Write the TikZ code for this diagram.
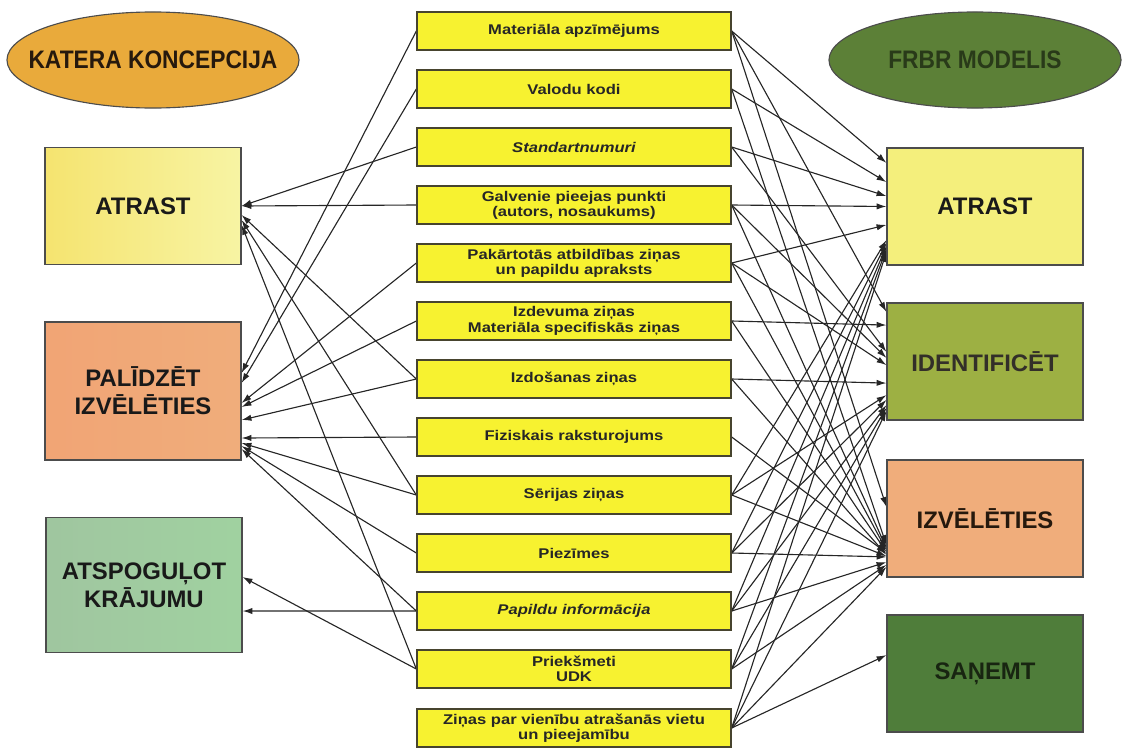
\documentclass[tikz,border=0pt]{standalone}
\usepackage{fontspec}
\setmainfont{Liberation Sans}
\newfontfamily\widefont[FakeStretch=1.18]{Liberation Sans}
\newfontfamily\narrowfont[FakeStretch=0.9]{Liberation Sans}
\usetikzlibrary{shapes.geometric,arrows.meta}
\pgfdeclarelayer{edgelayer}
\pgfdeclarelayer{nodelayer}
\pgfsetlayers{edgelayer,nodelayer,main}
\definecolor{fieldfill}{HTML}{F7F230}
\definecolor{findfill}{HTML}{F4EF7C}
\definecolor{identfill}{HTML}{9DB043}
\definecolor{selectfill}{HTML}{F0AD7B}
\definecolor{obtainfill}{HTML}{4F7D3A}
\definecolor{katera}{HTML}{E9AA3B}
\definecolor{frbr}{HTML}{5C8037}
\tikzstyle{edge}=[draw=black!85, line width=0.8pt, -{Latex[length=7pt,width=4.5pt]}]
\tikzstyle{field}=[rectangle, draw=black!65!olive, line width=0.9pt, fill=fieldfill, minimum width=7.85cm, minimum height=0.95cm, inner sep=0pt, align=center, text=black!85, font=\widefont\bfseries\fontsize{10}{10.8}\selectfont]
\tikzstyle{task}=[rectangle, draw=black!70, line width=0.8pt, minimum width=4.9cm, minimum height=2.925cm, inner sep=0pt, align=center, text=black!90, font=\bfseries\fontsize{17}{20}\selectfont]
\tikzstyle{title}=[ellipse, draw=black!70, line width=0.8pt, minimum width=7.3cm, minimum height=2.4cm, inner sep=0pt, font=\narrowfont\bfseries\fontsize{18}{20}\selectfont]

\begin{document}
\begin{tikzpicture}[x=0.025cm, y=-0.025cm]
				\useasboundingbox (0,0) rectangle (1122,750);
				\begin{pgfonlayer}{nodelayer}
					\node [style=title, fill=katera, text=black!80!brown] (21) at (153, 60) {\makebox[0pt]{KATERA KONCEPCIJA}};
					\node [style=title, fill=frbr, text=black!55!frbr] (22) at (975, 60) {\makebox[0pt]{FRBR MODELIS}};
					\node [style=task, left color=findfill!90!orange, right color=findfill!70!white] (14) at (143, 206) {ATRAST};
					\node [style=task, minimum height=3.45cm, left color=selectfill!95!red, middle color=selectfill!70!pink, right color=selectfill] (15) at (143, 391) {PALĪDZĒT\\IZVĒLĒTIES};
					\node [style=task, minimum height=3.375cm, left color=green!25!gray!60, middle color=cyan!15!gray!45, right color=green!35!gray!55] (16) at (144, 585) {ATSPOGUĻOT\\KRĀJUMU};
					\node [style=task, fill=findfill] (17) at (985, 206.5) {ATRAST};
					\node [style=task, fill=identfill, text=black!85!olive] (18) at (985, 361.5) {IDENTIFICĒT};
					\node [style=task, fill=selectfill, text=black!80!brown] (19) at (985, 518.5) {IZVĒLĒTIES};
					\node [style=task, fill=obtainfill, text=black!70!obtainfill] (20) at (985, 673.5) {SAŅEMT};
					\node [style=field] (1) at (574, 31) {Materiāla apzīmējums};
					\node [style=field] (2) at (574, 89) {Valodu kodi};
					\node [style=field, font=\widefont\bfseries\itshape\fontsize{10}{10.8}\selectfont] (3) at (574, 147) {Standartnumuri};
					\node [style=field] (4) at (574, 205) {Galvenie pieejas punkti\\(autors, nosaukums)};
					\node [style=field] (5) at (574, 263) {Pakārtotās atbildības ziņas\\un papildu apraksts};
					\node [style=field] (6) at (574, 321) {Izdevuma ziņas\\Materiāla specifiskās ziņas};
					\node [style=field] (7) at (574, 379) {Izdošanas ziņas};
					\node [style=field] (8) at (574, 437) {Fiziskais raksturojums};
					\node [style=field] (9) at (574, 495) {Sērijas ziņas};
					\node [style=field] (10) at (574, 553) {Piezīmes};
					\node [style=field, font=\widefont\bfseries\itshape\fontsize{10}{10.8}\selectfont] (11) at (574, 611) {Papildu informācija};
					\node [style=field] (12) at (574, 669) {Priekšmeti\\UDK};
					\node [style=field] (13) at (574, 728) {Ziņas par vienību atrašanās vietu\\un pieejamību};
				\end{pgfonlayer}
				\begin{pgfonlayer}{edgelayer}
					% uz kataloga uzdevumiem
					\draw [style=edge] (1.west) to ([yshift=0.45cm]15.east);
					\draw [style=edge] (2.west) to ([yshift=0.2cm]15.east);
					\draw [style=edge] (3.west) to (14.east);
					\draw [style=edge] (4.west) to (14.east);
					\draw [style=edge] (5.west) to ([yshift=-0.3cm]15.east);
					\draw [style=edge] (6.west) to ([yshift=-0.4cm]15.east);
					\draw [style=edge] (7.west) to ([yshift=-0.225cm]14.east);
					\draw [style=edge] (7.west) to ([yshift=-0.725cm]15.east);
					\draw [style=edge] (8.west) to ([yshift=-1.175cm]15.east);
					\draw [style=edge] (9.west) to ([yshift=-0.35cm]14.east);
					\draw [style=edge] (9.west) to ([yshift=-1.3cm]15.east);
					\draw [style=edge] (10.west) to ([yshift=-1.375cm]15.east);
					\draw [style=edge] (11.west) to ([yshift=-1.45cm]15.east);
					\draw [style=edge] (11.west) to ([yshift=-0.65cm]16.east);
					\draw [style=edge] (12.west) to ([yshift=-0.475cm]14.east);
					\draw [style=edge] (12.west) to ([yshift=0.2cm]16.east);
					% uz FRBR uzdevumiem
					\draw [style=edge] (1.east) to ([yshift=1.09cm]17.west);
					\draw [style=edge] (1.east) to ([yshift=1.24cm]18.west);
					\draw [style=edge] (1.east) to ([yshift=0.29cm]19.west);
					\draw [style=edge] (2.east) to ([yshift=0.61cm]17.west);
					\draw [style=edge] (2.east) to ([yshift=-0.66cm]19.west);
					\draw [style=edge] (3.east) to ([yshift=0.26cm]17.west);
					\draw [style=edge] (3.east) to ([yshift=0.24cm]18.west);
					\draw [style=edge] (4.east) to (17.west);
					\draw [style=edge] (4.east) to ([yshift=0.09cm]18.west);
					\draw [style=edge] (4.east) to ([yshift=-0.74cm]19.west);
					\draw [style=edge] (5.east) to ([yshift=-0.46cm]17.west);
					\draw [style=edge] (5.east) to ([yshift=-0.09cm]18.west);
					\draw [style=edge] (5.east) to ([yshift=-0.79cm]19.west);
					\draw [style=edge] (6.east) to ([yshift=0.91cm]18.west);
					\draw [style=edge] (6.east) to ([yshift=-0.84cm]19.west);
					\draw [style=edge] (7.east) to ([yshift=-0.54cm]18.west);
					\draw [style=edge] (7.east) to ([yshift=-0.91cm]19.west);
					\draw [style=edge] (8.east) to ([yshift=-0.86cm]19.west);
					\draw [style=edge] (9.east) to ([yshift=-0.84cm]17.west);
					\draw [style=edge] (9.east) to ([yshift=-0.84cm]18.west);
					\draw [style=edge] (9.east) to ([yshift=-0.94cm]19.west);
					\draw [style=edge] (10.east) to ([yshift=-0.91cm]17.west);
					\draw [style=edge] (10.east) to ([yshift=-0.96cm]18.west);
					\draw [style=edge] (10.east) to ([yshift=-0.96cm]19.west);
					\draw [style=edge] (11.east) to ([yshift=-0.99cm]17.west);
					\draw [style=edge] (11.east) to ([yshift=-1.09cm]18.west);
					\draw [style=edge] (11.east) to ([yshift=-1.09cm]19.west);
					\draw [style=edge] (12.east) to ([yshift=-1.06cm]17.west);
					\draw [style=edge] (12.east) to ([yshift=-1.16cm]18.west);
					\draw [style=edge] (12.east) to ([yshift=-1.16cm]19.west);
					\draw [style=edge] (13.east) to ([yshift=-1.14cm]17.west);
					\draw [style=edge] (13.east) to ([yshift=-1.24cm]18.west);
					\draw [style=edge] (13.east) to ([yshift=-1.21cm]19.west);
					\draw [style=edge] (13.east) to ([yshift=0.46cm]20.west);
				\end{pgfonlayer}
\end{tikzpicture}
\end{document}
